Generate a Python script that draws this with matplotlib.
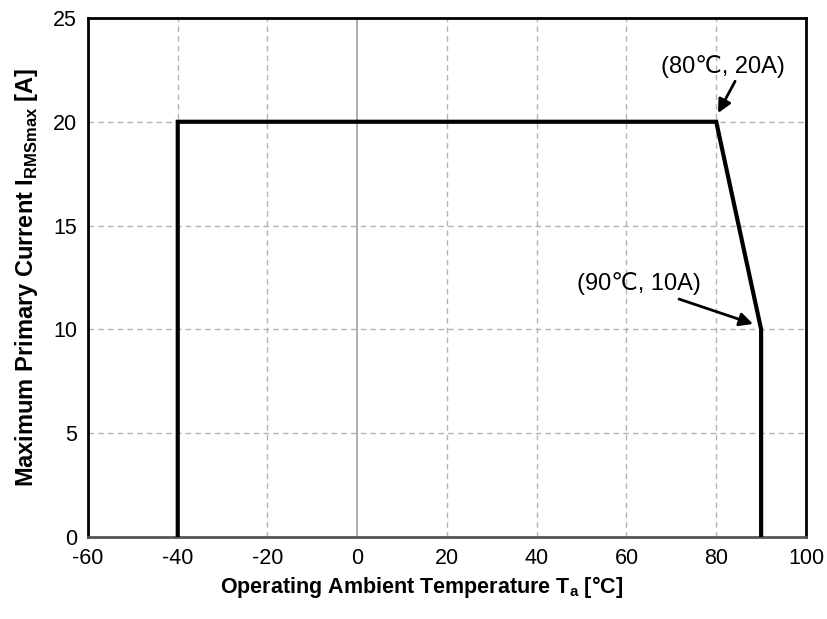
import matplotlib
matplotlib.use('agg')
import matplotlib.pyplot as plt

# derating curve
temp = [-40, -40, 80, 90, 90]
current = [0, 20, 20, 10, 0]

x_ticks = [-60, -40, -20, 0, 20, 40, 60, 80, 100]
y_ticks = [0, 5, 10, 15, 20, 25]

plt.rcParams['font.family'] = ['Liberation Sans', 'DejaVu Sans']
plt.rcParams['axes.unicode_minus'] = False
plt.rcParams['mathtext.fontset'] = 'custom'
plt.rcParams['mathtext.rm'] = 'Liberation Sans:bold'

fig = plt.figure(figsize=(8.27, 6.19), dpi=100)
ax = fig.add_axes([0.1064, 0.1325, 0.8682, 0.8385])

ax.set_xlim(-60, 100)
ax.set_ylim(0, 25)
ax.set_xticks(x_ticks)
ax.set_yticks(y_ticks)

# grid, dashed except the x=0 line
for x in x_ticks[1:-1]:
    if x == 0:
        ax.axvline(x, color='#a0a0a0', lw=1.2, zorder=1)
    else:
        ax.axvline(x, color='#b4b4b4', lw=1, ls=(0, (4, 3)), zorder=1)
for y in y_ticks[1:-1]:
    ax.axhline(y, color='#b4b4b4', lw=1, ls=(0, (4, 3)), zorder=1)

ax.plot(temp, current, color='black', lw=3, solid_joinstyle='miter', zorder=3)

for s in ax.spines.values():
    s.set_linewidth(2)
    s.set_color('black')
ax.spines['bottom'].set_color('#555555')

ax.tick_params(length=0, labelsize=15.5, pad=8)

ax.set_xlabel('Operating Ambient Temperature T$_\\mathregular{a}$ [°C]',
              fontsize=15.5, fontweight='bold', labelpad=1)
ax.xaxis.set_label_coords(0.465, -0.072)
ax.set_ylabel('Maximum Primary Current I$_\\mathregular{RMSmax}$ [A]',
              fontsize=17, fontweight='bold', labelpad=9)

# point labels, with separate arrows
ax.text(81.5, 22.65, '(80℃, 20A)', fontsize=17, ha='center', va='center')
ax.annotate('', xy=(80.4, 20.42), xytext=(84.2, 21.95),
            arrowprops=dict(arrowstyle='-|>', color='black', lw=2,
                            mutation_scale=20, shrinkA=0, shrinkB=0))
ax.text(62.8, 12.2, '(90℃, 10A)', fontsize=17, ha='center', va='center')
ax.annotate('', xy=(88.2, 10.26), xytext=(71.7, 11.46),
            arrowprops=dict(arrowstyle='-|>', color='black', lw=2,
                            mutation_scale=20, shrinkA=0, shrinkB=0))

fig.savefig('out.png', dpi=100)
